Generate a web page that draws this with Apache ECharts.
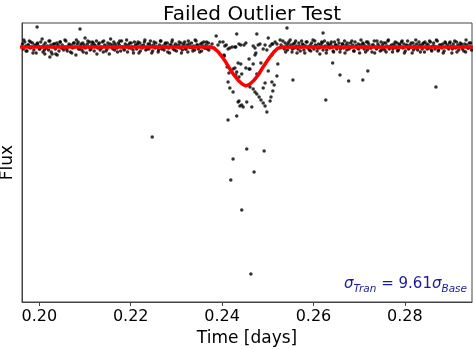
<!DOCTYPE html>
<html>
<head>
<meta charset="utf-8">
<script src="https://cdn.jsdelivr.net/npm/echarts@6/dist/echarts.min.js"></script>
<style>
  html, body { margin: 0; padding: 0; background: #fff; }
  #chart { width: 473px; height: 349px; }
</style>
</head>
<body>
<div id="chart"></div>
<script>
// times in units of 1e-4 days, flux deviations in ppt (parts per thousand)
var baseTimeL = [
  1963,1965,1968,1970,1973,1975,1978,1980,1983,1985,1988,1990,1993,1995,1998,2000,2003,2005,2008,2010,
  2013,2015,2018,2020,2023,2025,2028,2030,2033,2035,2038,2040,2043,2045,2048,2050,2053,2055,2058,2060,
  2063,2065,2068,2070,2073,2075,2078,2080,2083,2085,2088,2090,2093,2095,2098,2100,2103,2105,2108,2110,
  2113,2115,2118,2120,2123,2125,2128,2130,2133,2135,2138,2140,2143,2145,2148,2150,2153,2155,2158,2160,
  2163,2165,2168,2170,2173,2175,2178,2180,2183,2185,2188,2190,2193,2195,2198,2200,2203,2205,2208,2210,
  2213,2215,2218,2220,2223,2225,2228,2230,2233,2235,2238,2240,2243,2245,2248,2250,2253,2255,2258,2260,
  2263,2265,2268,2270,2273,2275,2278,2280,2283,2285,2288,2290,2293,2295,2298,2300,2303,2305,2308,2310,
  2313,2315,2318,2320,2323,2325,2328,2330,2333,2335,2338,2340,2343,2345,2348,2350,2353,2355,2358,2360,
  2363,2365,2368,2370,2373
];
var baseDevL = [
  3,-2,5,1,-4,2,6,-1,0,4,-3,2,-6,3,1,-2,5,0,-5,2,
  4,-1,1,-3,6,2,-7,0,3,-2,4,1,-4,5,-1,2,-3,0,6,-2,
  1,3,-5,2,-1,4,0,-8,3,5,-2,1,-3,4,2,-1,-6,3,0,5,
  -2,2,4,-4,1,6,-1,3,-3,0,5,-5,2,1,-2,4,-7,3,0,2,
  5,-3,1,-1,4,2,-4,6,0,-2,3,1,-5,2,4,-1,0,-3,5,1,
  -2,3,-6,4,1,-1,2,5,-3,0,3,-2,6,1,-4,2,-1,4,0,-5,
  2,6,-2,1,-3,3,0,4,-1,-6,2,5,-2,1,3,-4,0,2,-1,4,
  -3,1,5,-2,2,-5,3,0,4,-1,1,-3,6,2,-2,0,3,-4,1,5,
  -1,2,-2,4,0
];
var baseTimeL2 = [
  1966,1971,1976,1981,1986,1991,1996,2001,2006,2011,2016,2021,2026,2031,2036,2041,2046,2051,2056,2061,
  2066,2071,2076,2081,2086,2091,2096,2101,2106,2111,2116,2121,2126,2131,2136,2141,2146,2151,2156,2161,
  2166,2171,2176,2181,2186,2191,2196,2201,2206,2211,2216,2221,2226,2231,2236,2241,2246,2251,2256,2261,
  2266,2271,2276,2281,2286,2291,2296,2301,2306,2311,2316,2321,2326,2331,2336,2341,2346,2351,2356,2361,
  2366,2371
];
var baseDevL2 = [
  7,-4,2,5,-6,1,4,-2,8,-3,0,6,-5,3,-7,2,5,-1,7,-4,
  1,-6,4,7,-2,3,-5,0,6,-3,5,2,-7,4,-1,6,-4,1,8,-2,
  3,-5,6,0,-3,7,-1,4,-6,2,5,-4,1,7,-2,3,-6,5,0,-3,
  6,-1,4,-5,2,7,-3,1,5,-6,3,-2,6,0,-4,7,2,-5,4,-1,
  5,-3
];
var baseTimeR = [
  2536,2538,2541,2543,2546,2548,2551,2553,2556,2558,2561,2563,2566,2568,2571,2573,2576,2578,2581,2583,
  2586,2588,2591,2593,2596,2598,2601,2603,2606,2608,2611,2613,2616,2618,2621,2623,2626,2628,2631,2633,
  2636,2638,2641,2643,2646,2648,2651,2653,2656,2658,2661,2663,2666,2668,2671,2673,2676,2678,2681,2683,
  2686,2688,2691,2693,2696,2698,2701,2703,2706,2708,2711,2713,2716,2718,2721,2723,2726,2728,2731,2733,
  2736,2738,2741,2743,2746,2748,2751,2753,2756,2758,2761,2763,2766,2768,2771,2773,2776,2778,2781,2783,
  2786,2788,2791,2793,2796,2798,2801,2803,2806,2808,2811,2813,2816,2818,2821,2823,2826,2828,2831,2833,
  2836,2838,2841,2843,2846,2848,2851,2853,2856,2858,2861,2863,2866,2868,2871,2873,2876,2878,2881,2883,
  2886,2888,2891,2893,2896,2898,2901,2903,2906,2908,2911,2913,2916,2918,2921,2923,2926,2928,2931,2933,
  2936,2938,2941,2943,2946
];
var baseDevR = [
  -2,4,1,-3,5,0,2,-5,3,-1,6,1,-2,4,-4,0,3,2,-6,1,
  5,-1,-3,2,4,0,-2,6,1,-4,3,-1,2,5,-3,0,1,-6,4,2,
  -1,3,0,-4,5,2,-2,1,4,-5,0,3,-1,6,2,-3,1,-2,4,0,
  2,-4,5,1,-1,3,-6,2,0,4,-2,1,5,-3,3,0,-1,-5,2,6,
  0,-2,3,1,-4,5,2,-1,-3,4,1,6,-2,0,2,-5,3,1,-1,4,
  -3,2,0,5,-1,3,-4,1,6,-2,2,0,-6,4,1,-1,3,-3,5,2,
  1,-2,4,-5,0,3,2,-1,5,-3,1,4,-2,0,6,-4,2,1,-1,3,
  -4,5,0,2,-2,4,1,-6,3,0,-1,5,2,-3,4,1,-2,0,3,-5,
  2,-1,4,0,-3
];
var baseTimeR2 = [
  2539,2544,2549,2554,2559,2564,2569,2574,2579,2584,2589,2594,2599,2604,2609,2614,2619,2624,2629,2634,
  2639,2644,2649,2654,2659,2664,2669,2674,2679,2684,2689,2694,2699,2704,2709,2714,2719,2724,2729,2734,
  2739,2744,2749,2754,2759,2764,2769,2774,2779,2784,2789,2794,2799,2804,2809,2814,2819,2824,2829,2834,
  2839,2844,2849,2854,2859,2864,2869,2874,2879,2884,2889,2894,2899,2904,2909,2914,2919,2924,2929,2934,
  2939,2944
];
var baseDevR2 = [
  -5,3,7,-2,4,-6,1,6,-3,5,0,-4,7,2,-1,-7,4,6,-3,1,
  5,-5,2,7,-2,3,-6,4,0,6,-4,1,-2,7,3,-5,5,-1,2,-6,
  6,0,-3,4,-5,7,1,-2,5,-4,3,6,-6,2,-1,4,-3,7,0,-5,
  3,5,-2,6,-4,1,7,-3,2,-6,4,0,5,-2,6,-5,1,3,-4,7,
  -1,4
];
// points inside the transit window [time, dev]
var dipPts = [
  [2378,3],[2382,-1],[2387,11],[2391,2],[2395,5],[2402,5],[2404,-8],[2405,-9],[2406,1],[2409,2],
  [2413,-2],[2417,-1],[2422,0],[2428,0],[2430,0],[2432,13],[2437,3],[2441,2],[2448,2],[2452,4],
  [2468,1],[2472,-1],[2474,-6],[2476,13],[2479,2],[2483,3],[2490,-2],[2494,2],[2498,-3],[2501,9],
  [2505,1],[2509,3],[2511,3],[2516,5],[2520,3],[2527,7],[2529,2],[2533,6],
  [2411,-20],[2415,-26],[2424,-22],[2428,-21],[2432,-25],[2435,-16],[2430,-28],[2437,-30],[2441,-17],[2443,-27],
  [2452,-21],[2459,-22],[2459,-12],[2461,-22],[2468,-17],[2472,-8],[2476,-27],[2485,-16],[2509,-8],[2501,-24],
  [2520,-29],[2522,-17],[2514,-38],[2494,-36],[2490,-41],[2509,-35],[2511,-44],[2507,-50],[2505,-54],[2498,-65],
  [2413,-35],[2417,-41],[2424,-45],[2437,-54],[2443,-58],[2435,-55],[2439,-59],[2446,-60],[2454,-55],[2465,-60],
  [2461,-40],[2468,-42],[2472,-45],[2476,-47],[2481,-50],[2485,-53],[2490,-56],[2494,-59],[2432,-69],[2413,-73],
  [2454,-102],[2492,-104],[2424,-112],[2470,-125],[2419,-133],[2443,-163],[2463,-227]
];
var outlierPts = [
  [2247,-90],[1995,20],[2089,18],[2100,9],[2023,-10],[2039,-8],[2012,-7],[2542,19],[2555,-33],[2621,14],
  [2642,-16],[2658,-28],[2677,-34],[2708,-33],[2719,-24],[2868,-40],[2627,-53]
];
var modelTime = [0.1955, 0.2374, 0.2382, 0.2391, 0.2400, 0.2409, 0.2417, 0.2426, 0.2435, 0.2444, 0.2452,
  0.2461, 0.2470, 0.2479, 0.2487, 0.2496, 0.2505, 0.2514, 0.2522, 0.2533, 0.2955];
var modelFlux = [1, 1, 0.9988, 0.9954, 0.9902, 0.9842, 0.978, 0.972, 0.9668, 0.963, 0.961,
  0.963, 0.9668, 0.972, 0.978, 0.9842, 0.9902, 0.9954, 0.9988, 1, 1];
var xTickStep = 0.02;

function toPt(t, d) { return [t / 10000, 1 + d / 1000]; }

var points = [];
baseTimeL.forEach(function (t, i) { points.push(toPt(t, baseDevL[i])); });
baseTimeL2.forEach(function (t, i) { points.push(toPt(t, baseDevL2[i])); });
baseTimeR.forEach(function (t, i) { points.push(toPt(t, baseDevR[i])); });
baseTimeR2.forEach(function (t, i) { points.push(toPt(t, baseDevR2[i])); });
dipPts.forEach(function (p) { points.push(toPt(p[0], p[1])); });
outlierPts.forEach(function (p) { points.push(toPt(p[0], p[1])); });

var model = modelTime.map(function (t, i) { return [t, modelFlux[i]]; });

var chart = echarts.init(document.getElementById('chart'));
chart.setOption({
  animation: false,
  title: {
    text: 'Failed Outlier Test',
    left: 247, top: 0, textAlign: 'center',
    textStyle: { fontFamily: 'DejaVu Sans', fontSize: 20, fontWeight: 'normal', color: '#000' }
  },
  grid: {
    left: 22, right: 1, top: 23, bottom: 47, show: true, borderColor: '#444', borderWidth: 1,
    containLabel: false, outerBoundsMode: 'none'
  },
  xAxis: {
    type: 'value', min: 0.1962, max: 0.2947,
    name: 'Time [days]', nameLocation: 'middle', nameGap: 27,
    nameTextStyle: { fontFamily: 'DejaVu Sans', fontSize: 17, color: '#000' },
    axisLine: { lineStyle: { color: '#444' } },
    axisTick: { length: 4, lineStyle: { color: '#444' } },
    splitLine: { show: false },
    axisLabel: {
      fontFamily: 'DejaVu Sans', fontSize: 16, color: '#000', margin: 7,
      showMinLabel: false, showMaxLabel: false,
      formatter: function (v) {
        var k = v / xTickStep;
        return Math.abs(k - Math.round(k)) < 1e-6 ? v.toFixed(2) : '';
      }
    }
  },
  yAxis: {
    type: 'value', min: 0.745, max: 1.024,
    name: 'Flux', nameLocation: 'middle', nameGap: 6,
    nameTextStyle: { fontFamily: 'DejaVu Sans', fontSize: 17, color: '#000' },
    axisLine: { show: true, lineStyle: { color: '#444' } },
    axisTick: { show: false }, axisLabel: { show: false }, splitLine: { show: false }
  },
  graphic: [{
    type: 'text', right: 6, top: 277,
    style: {
      text: '{s|σ}{sub|Tran}{n| = 9.61}{s|σ}{sub|Base}',
      fill: '#1a1a9c',
      rich: {
        s: { fontFamily: 'DejaVu Sans', fontStyle: 'italic', fontSize: 15, fill: '#1a1a9c', verticalAlign: 'bottom' },
        n: { fontFamily: 'DejaVu Sans', fontSize: 15, fill: '#1a1a9c', verticalAlign: 'bottom' },
        sub: { fontFamily: 'DejaVu Sans', fontStyle: 'italic', fontSize: 10.5, fill: '#1a1a9c', verticalAlign: 'bottom', padding: [0, 0, -3, 0] }
      }
    }
  }],
  series: [{
    type: 'scatter', data: points, symbolSize: 3.5,
    itemStyle: { color: '#000' }, z: 2
  }, {
    type: 'line', data: model, showSymbol: false, clip: true,
    lineStyle: { color: '#ff0000', width: 3.5 }, z: 3
  }]
});
</script>
</body>
</html>
